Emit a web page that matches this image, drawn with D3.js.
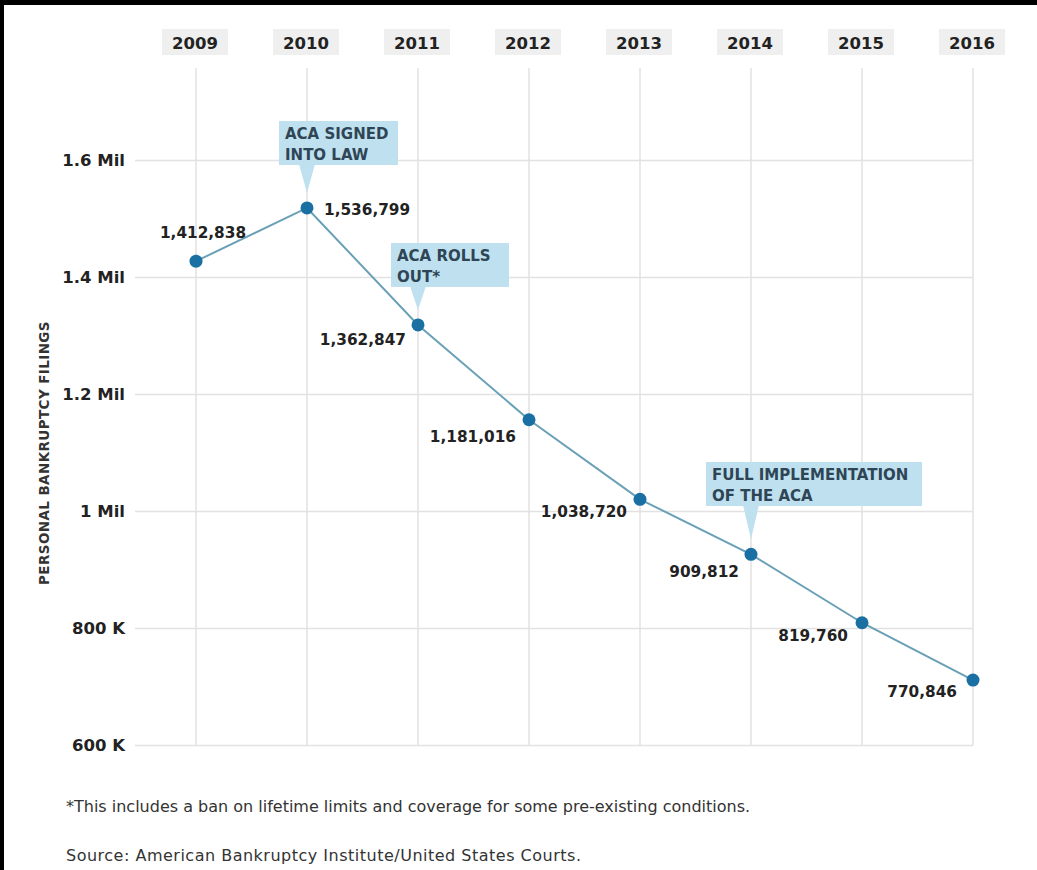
<!DOCTYPE html>
<html>
<head>
<meta charset="utf-8">
<script src="https://cdn.jsdelivr.net/npm/d3@7"></script>
<style>
  html, body { margin: 0; padding: 0; background: #000; }
  svg { display: block; }
</style>
</head>
<body>
<svg id="chart" width="1037" height="870"></svg>
<script>
// ---- data ----
const years = ["2009", "2010", "2011", "2012", "2013", "2014", "2015", "2016"];
// plotted positions of the markers
const plottedValues = [1427000, 1518000, 1318000, 1156000, 1020000, 926000, 809000, 711000];
// printed value labels
const valueLabels = ["1,412,838", "1,536,799", "1,362,847", "1,181,016", "1,038,720", "909,812", "819,760", "770,846"];
const yTicks = [600000, 800000, 1000000, 1200000, 1400000, 1600000];
const yTickLabels = ["600 K", "800 K", "1 Mil", "1.2 Mil", "1.4 Mil", "1.6 Mil"];
const annotationYears = ["2010", "2011", "2014"];
const annotationTexts = [["ACA SIGNED", "INTO LAW"], ["ACA ROLLS", "OUT*"], ["FULL IMPLEMENTATION", "OF THE ACA"]];
const axisTitle = "PERSONAL BANKRUPTCY FILINGS";
const footnote = "*This includes a ban on lifetime limits and coverage for some pre-existing conditions.";
const source = "Source: American Bankruptcy Institute/United States Courts.";

// ---- layout (not data) ----
const labelLayout = [
  {dx: 7, dy: -23, anchor: "middle"},
  {dx: 17, dy: 7, anchor: "start"},
  {dx: -12, dy: 20, anchor: "end"},
  {dx: -13, dy: 22, anchor: "end"},
  {dx: -13, dy: 18, anchor: "end"},
  {dx: -12, dy: 23, anchor: "end"},
  {dx: -14, dy: 18, anchor: "end"},
  {dx: -16, dy: 17, anchor: "end"}
];
const annLayout = [
  {left: -28, width: 119, top: 121},
  {left: -27, width: 118, top: 243},
  {left: -45, width: 216, top: 462}
];

const FONT = "'DejaVu Sans', 'Noto Sans', sans-serif";
const svg = d3.select("#chart");

svg.append("rect").attr("x", 4).attr("y", 5).attr("width", 1033).attr("height", 865).attr("fill", "#fff");

const x = d3.scalePoint().domain(years).range([196, 973]);
const y = d3.scaleLinear().domain([600000, 1600000]).range([745, 160]);

// vertical gridlines
svg.append("g").selectAll("line").data(years).join("line")
  .attr("x1", d => x(d)).attr("x2", d => x(d))
  .attr("y1", 68).attr("y2", y(600000))
  .attr("stroke", "#e2e2e2").attr("stroke-width", 1.5);

// horizontal gridlines via axis
const yAxis = d3.axisLeft(y).tickValues(yTicks)
  .tickFormat(d => yTickLabels[yTicks.indexOf(d)])
  .tickSize(-(x(years[years.length - 1]) - 135)).tickPadding(10);
const gy = svg.append("g").attr("transform", "translate(135,0)").call(yAxis);
gy.select(".domain").remove();
gy.selectAll(".tick line").attr("stroke", "#e2e2e2").attr("stroke-width", 1.5);
gy.selectAll(".tick text")
  .attr("font-family", FONT).attr("font-size", 16.5).attr("font-weight", 700)
  .attr("fill", "#222").attr("x", -10);

// year header boxes
const gx = svg.append("g");
const yearG = gx.selectAll("g").data(years).join("g")
  .attr("transform", d => `translate(${x(d)},0)`);
yearG.append("rect").attr("x", -34).attr("y", 29).attr("width", 66).attr("height", 26).attr("fill", "#efefef");
yearG.append("text").attr("x", -1).attr("y", 49).attr("text-anchor", "middle")
  .attr("font-family", FONT).attr("font-size", 16.5).attr("font-weight", 700).attr("fill", "#222")
  .text(d => d);

// axis title
svg.append("text")
  .attr("transform", `translate(49,${453}) rotate(-90)`)
  .attr("text-anchor", "middle")
  .attr("font-family", FONT).attr("font-size", 13.5).attr("font-weight", 700)
  .attr("letter-spacing", 0.4).attr("fill", "#333")
  .text(axisTitle);

// annotations
annotationYears.forEach((yr, i) => {
  const cx = x(yr);
  const idx = years.indexOf(yr);
  const py = y(plottedValues[idx]);
  const L = annLayout[i];
  const g = svg.append("g");
  const bottom = L.top + 44;
  g.append("rect").attr("x", cx + L.left).attr("y", L.top).attr("width", L.width).attr("height", 44)
    .attr("fill", "#bfe1ef");
  g.append("path")
    .attr("d", `M${cx - 8},${bottom - 1} L${cx + 8},${bottom - 1} L${cx},${py - 15} Z`)
    .attr("fill", "#bfe1ef");
  annotationTexts[i].forEach((t, j) => {
    g.append("text").attr("x", cx + L.left + 6).attr("y", L.top + 18 + j * 21)
      .attr("font-family", FONT).attr("font-size", 15).attr("font-weight", 700)
      .attr("fill", "#2f4556").text(t);
  });
});

// line
const line = d3.line().x((d, i) => x(years[i])).y(d => y(d));
svg.append("path").datum(plottedValues).attr("d", line)
  .attr("fill", "none").attr("stroke", "#6aa0b6").attr("stroke-width", 2);

// points
svg.append("g").selectAll("circle").data(plottedValues).join("circle")
  .attr("cx", (d, i) => x(years[i])).attr("cy", d => y(d)).attr("r", 6.5)
  .attr("fill", "#1a70a3");

// value labels
svg.append("g").selectAll("text").data(valueLabels).join("text")
  .attr("x", (d, i) => x(years[i]) + labelLayout[i].dx)
  .attr("y", (d, i) => y(plottedValues[i]) + labelLayout[i].dy)
  .attr("text-anchor", (d, i) => labelLayout[i].anchor)
  .attr("font-family", FONT).attr("font-size", 15.3).attr("font-weight", 700).attr("fill", "#222")
  .text(d => d);

// footnotes
svg.append("text").attr("x", 66).attr("y", 812)
  .attr("font-family", FONT).attr("font-size", 16).attr("fill", "#333").text(footnote);
svg.append("text").attr("x", 66).attr("y", 861)
  .attr("font-family", FONT).attr("font-size", 16).attr("letter-spacing", 0.5).attr("fill", "#333").text(source);
</script>
</body>
</html>
